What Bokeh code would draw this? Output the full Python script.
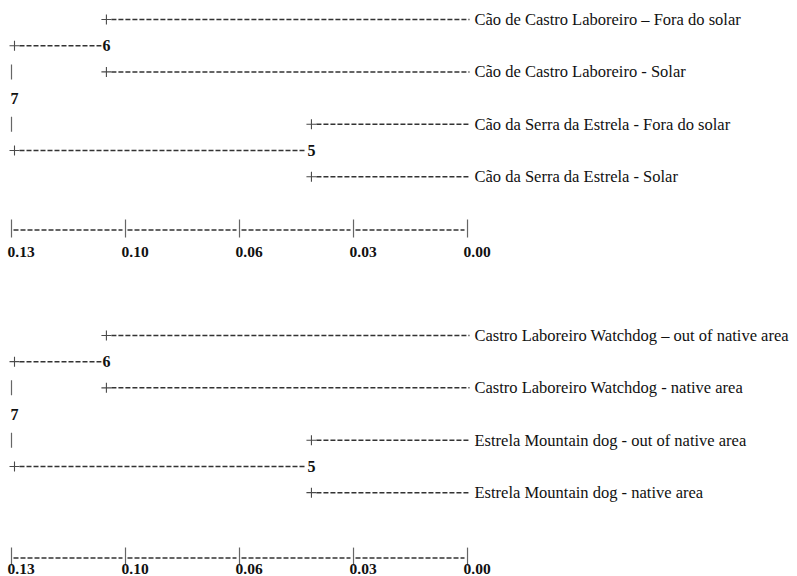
import numpy as np
from bokeh.plotting import figure
from bokeh.models import Range1d, ColumnDataSource
from bokeh.core.properties import value
from bokeh.embed import file_html
from bokeh.resources import INLINE

# ---------------- data ----------------
leaves_pt = ["Cão de Castro Laboreiro – Fora do solar",
             "Cão de Castro Laboreiro - Solar",
             "Cão da Serra da Estrela - Fora do solar",
             "Cão da Serra da Estrela - Solar"]
leaves_en = ["Castro Laboreiro Watchdog – out of native area",
             "Castro Laboreiro Watchdog - native area",
             "Estrela Mountain dog - out of native area",
             "Estrela Mountain dog - native area"]
# internal nodes (leaves are numbered 1..4)
node_ids = [5, 6, 7]
node_children = [(3, 4), (1, 2), (6, 5)]
node_heights = [0.045, 0.103, 0.129]
scale_max = 0.129
tick_labels = ["0.13", "0.10", "0.06", "0.03", "0.00"]

# ---------------- layout ----------------
W, H = 797, 576
X0 = 10.0        # px of the root / left end of scale
Y0 = 19.0        # px of first row
KX = 3535.0      # px per distance unit
RY = 26.2        # px per text row
panel_base = [0.0, 12.06]
scale_row = [7.98, 8.44]
tick_row = [8.89, 8.93]

FONT = "Liberation Serif"
TXT = "#111111"
DASH = "#333333"
PLUS = "#4a4a4a"
VBAR = "#666666"


def dx(d, px):
    """shift distance value d by px pixels to the right"""
    return d - px / KX


heights = {1: 0.0, 2: 0.0, 3: 0.0, 4: 0.0}
children = {}
for nid, ch, h in zip(node_ids, node_children, node_heights):
    heights[nid] = h
    children[nid] = ch


def row(k):
    if k <= 4:
        return 2.0 * (k - 1)
    a, b = children[k]
    return (row(a) + row(b)) / 2.0


plus = dict(x=[], y=[])
vbar = dict(x=[], y=[])
sbar = dict(x=[], y=[])
seg = dict(x0=[], y0=[], x1=[], y1=[])
leaf_lab = dict(x=[], y=[], t=[])
node_lab = dict(x=[], y=[], t=[])
tick_lab = dict(x=[], y=[], t=[])

for p_i, (leaves, base) in enumerate(zip([leaves_pt, leaves_en], panel_base)):
    for nid in node_ids:
        x = heights[nid]
        c1, c2 = children[nid]
        r1, r2 = sorted([row(c1), row(c2)])
        for r in (r1, r2):
            plus["x"].append(dx(x, 4))
            plus["y"].append(base + r)
        for r in range(int(r1) + 1, int(r2)):
            if r != row(nid):
                vbar["x"].append(dx(x, 1))
                vbar["y"].append(base + r)
        node_lab["x"].append(x)
        node_lab["y"].append(base + row(nid))
        node_lab["t"].append(str(nid))
        for c in (c1, c2):
            start = dx(x, 9)
            if c <= 4:
                end = dx(0.0, 3)
                leaf_lab["x"].append(dx(0.0, 8))
                leaf_lab["y"].append(base + row(c))
                leaf_lab["t"].append(leaves[c - 1])
            else:
                end = dx(heights[c], -1)
            seg["x0"].append(start)
            seg["x1"].append(end)
            seg["y0"].append(base + row(c))
            seg["y1"].append(base + row(c))
    # scale bar
    n = len(tick_labels)
    tvals = [scale_max * (n - 1 - i) / (n - 1) for i in range(n)]
    sr = base + scale_row[p_i]
    for i, t in enumerate(tvals):
        sbar["x"].append(dx(t, 1))
        sbar["y"].append(sr)
        tick_lab["x"].append(dx(t, -3))
        tick_lab["y"].append(base + tick_row[p_i])
        tick_lab["t"].append(tick_labels[i])
        if i < n - 1:
            seg["x0"].append(dx(t, 3))
            seg["x1"].append(dx(tvals[i + 1], -2))
            seg["y0"].append(sr + 0.05)
            seg["y1"].append(sr + 0.05)

x_start = scale_max + X0 / KX
x_end = scale_max - (W - X0) / KX
y_top = -Y0 / RY
y_bottom = (H - Y0) / RY

p = figure(width=W, height=H, x_range=Range1d(x_start, x_end),
           y_range=Range1d(y_bottom, y_top), output_backend="svg",
           toolbar_location=None, min_border=0)
p.axis.visible = False
p.grid.visible = False
p.outline_line_color = None
p.background_fill_color = "white"
p.border_fill_color = "white"

p.segment("x0", "y0", "x1", "y1", source=ColumnDataSource(seg),
          line_color=DASH, line_width=1.5, line_dash="5 2")
p.scatter("x", "y", source=ColumnDataSource(plus), marker="cross", size=10,
          line_color=PLUS, line_width=1.1)
p.scatter("x", "y", source=ColumnDataSource(vbar), marker="dash", angle=np.pi / 2,
          size=15, line_color=VBAR, line_width=1.2)
p.scatter("x", "y", source=ColumnDataSource(sbar), marker="dash", angle=np.pi / 2,
          size=18, line_color=VBAR, line_width=1.2)

p.text("x", "y", text="t", source=ColumnDataSource(leaf_lab),
       text_font=value(FONT), text_font_size=value("16.5px"),
       text_baseline="middle", text_align="left", text_color=TXT)
p.text("x", "y", text="t", source=ColumnDataSource(node_lab),
       text_font=value(FONT), text_font_size=value("16px"), text_font_style="bold",
       text_baseline="middle", text_align="left", text_color=TXT)
p.text("x", "y", text="t", source=ColumnDataSource(tick_lab),
       text_font=value(FONT), text_font_size=value("15.5px"), text_font_style="bold",
       text_baseline="middle", text_align="left", text_color=TXT)

open("out.html", "w").write(file_html(p, INLINE))
